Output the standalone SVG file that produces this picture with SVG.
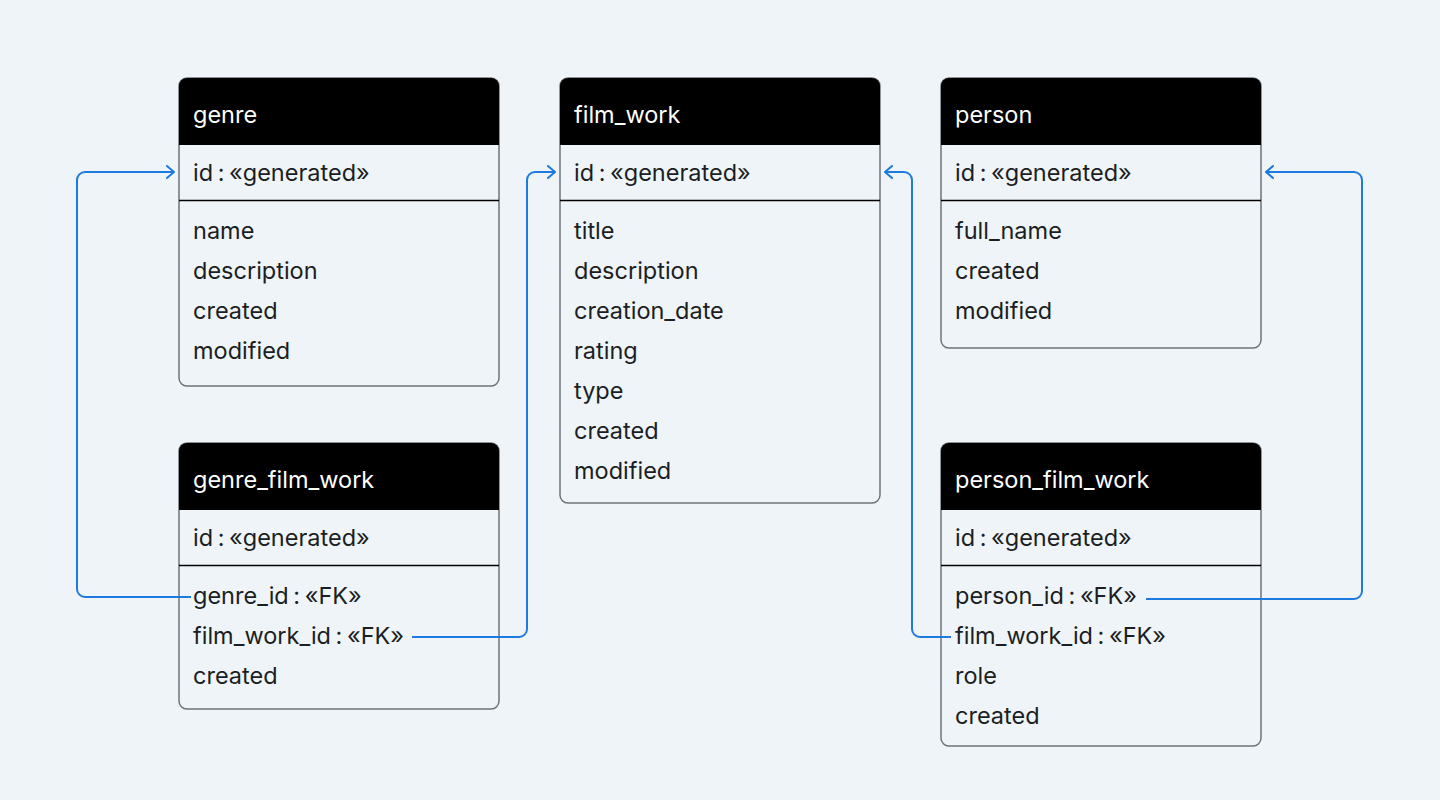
<svg xmlns="http://www.w3.org/2000/svg" width="1440" height="800" viewBox="0 0 1440 800">
<defs>
<style>
.box{fill:#eff4f8;stroke:#6e7378;stroke-width:1.5}
.hdr{fill:#000}
.div{stroke:#000;stroke-width:1.3}
.t{font-family:Inter,"Liberation Sans",sans-serif;font-size:23.5px;fill:#1b1e22;word-spacing:-2px}
.h{font-family:Inter,"Liberation Sans",sans-serif;font-size:23.5px;fill:#fff}
.c{fill:none;stroke:#1f7ae0;stroke-width:2}
</style>
<marker id="arr" markerWidth="12" markerHeight="14" refX="10" refY="7" orient="auto" markerUnits="userSpaceOnUse">
<path d="M3,1 L10,7 L3,13" fill="none" stroke="#1f7ae0" stroke-width="2" stroke-linecap="round" stroke-linejoin="round"/>
</marker>
</defs>
<rect width="1440" height="800" fill="#eff4f8"/>

<g id="genre">
<rect class="box" x="179" y="78" width="320" height="308" rx="8"/>
<path class="hdr" d="M179,145 V86 a8,8 0 0 1 8,-8 H491 a8,8 0 0 1 8,8 V145 Z"/>
<line class="div" x1="179" y1="200.5" x2="499" y2="200.5"/>
<text class="h" x="193" y="123">genre</text>
<text class="t" x="193" y="181">id : «generated»</text>
<text class="t" x="193" y="239">name</text>
<text class="t" x="193" y="279">description</text>
<text class="t" x="193" y="319">created</text>
<text class="t" x="193" y="359">modified</text>
</g>

<g id="genre_film_work">
<rect class="box" x="179" y="443" width="320" height="266" rx="8"/>
<path class="hdr" d="M179,510 V451 a8,8 0 0 1 8,-8 H491 a8,8 0 0 1 8,8 V510 Z"/>
<line class="div" x1="179" y1="565.5" x2="499" y2="565.5"/>
<text class="h" x="193" y="488">genre_film_work</text>
<text class="t" x="193" y="546">id : «generated»</text>
<text class="t" x="193" y="604">genre_id : «FK»</text>
<text class="t" x="193" y="644">film_work_id : «FK»</text>
<text class="t" x="193" y="684">created</text>
</g>

<g id="film_work">
<rect class="box" x="560" y="78" width="320" height="425" rx="8"/>
<path class="hdr" d="M560,145 V86 a8,8 0 0 1 8,-8 H872 a8,8 0 0 1 8,8 V145 Z"/>
<line class="div" x1="560" y1="200.5" x2="880" y2="200.5"/>
<text class="h" x="574" y="123">film_work</text>
<text class="t" x="574" y="181">id : «generated»</text>
<text class="t" x="574" y="239">title</text>
<text class="t" x="574" y="279">description</text>
<text class="t" x="574" y="319">creation_date</text>
<text class="t" x="574" y="359">rating</text>
<text class="t" x="574" y="399">type</text>
<text class="t" x="574" y="439">created</text>
<text class="t" x="574" y="479">modified</text>
</g>

<g id="person">
<rect class="box" x="941" y="78" width="320" height="270" rx="8"/>
<path class="hdr" d="M941,145 V86 a8,8 0 0 1 8,-8 H1253 a8,8 0 0 1 8,8 V145 Z"/>
<line class="div" x1="941" y1="200.5" x2="1261" y2="200.5"/>
<text class="h" x="955" y="123">person</text>
<text class="t" x="955" y="181">id : «generated»</text>
<text class="t" x="955" y="239">full_name</text>
<text class="t" x="955" y="279">created</text>
<text class="t" x="955" y="319">modified</text>
</g>

<g id="person_film_work">
<rect class="box" x="941" y="443" width="320" height="303" rx="8"/>
<path class="hdr" d="M941,510 V451 a8,8 0 0 1 8,-8 H1253 a8,8 0 0 1 8,8 V510 Z"/>
<line class="div" x1="941" y1="565.5" x2="1261" y2="565.5"/>
<text class="h" x="955" y="488">person_film_work</text>
<text class="t" x="955" y="546">id : «generated»</text>
<text class="t" x="955" y="604">person_id : «FK»</text>
<text class="t" x="955" y="644">film_work_id : «FK»</text>
<text class="t" x="955" y="684">role</text>
<text class="t" x="955" y="724">created</text>
</g>

<g id="connectors">
<path class="c" d="M191,597 H85 a8,8 0 0 1 -8,-8 V180 a8,8 0 0 1 8,-8 H174" marker-end="url(#arr)"/>
<path class="c" d="M412,637 H519 a8,8 0 0 0 8,-8 V180 a8,8 0 0 1 8,-8 H555" marker-end="url(#arr)"/>
<path class="c" d="M951,637 H920 a8,8 0 0 1 -8,-8 V180 a8,8 0 0 0 -8,-8 H885" marker-end="url(#arr)"/>
<path class="c" d="M1146,599 H1354 a8,8 0 0 0 8,-8 V180 a8,8 0 0 0 -8,-8 H1266" marker-end="url(#arr)"/>
</g>
</svg>
